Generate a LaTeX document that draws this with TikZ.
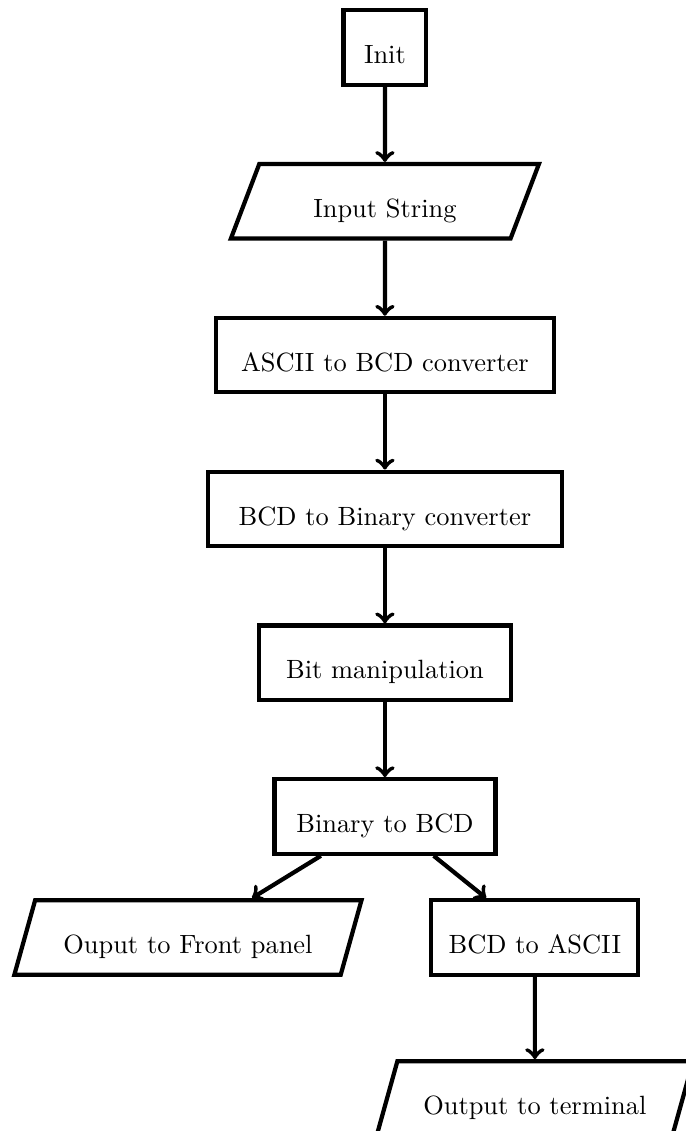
\documentclass[tikz,border=0pt]{standalone}
\usetikzlibrary{shapes.geometric, positioning}

\begin{document}
\begin{tikzpicture}[node distance=1cm,
    process/.style={rectangle, draw, ultra thick, minimum height=28.2pt,
        text height=12.2pt, text depth=0pt},
    io/.style={trapezium, trapezium left angle=70, trapezium right angle=110,
        trapezium stretches=true, draw, ultra thick, minimum height=28.2pt,
        text height=12.2pt, text depth=0pt},
    arrow/.style={->, ultra thick}]
    \useasboundingbox (-145.8pt,18pt) rectangle (113.7pt,-410.4pt);

    \node[process, minimum width=31.4pt] (init) {Init};
    \node[io, minimum width=116.7pt, below=of init] (input) {Input String};
    \node[process, minimum width=128pt, below=of input] (asciibcd) {ASCII to BCD converter};
    \node[process, minimum width=134pt, below=of asciibcd] (bcdbin) {BCD to Binary converter};
    \node[process, minimum width=95.5pt, below=of bcdbin] (bitman) {Bit manipulation};
    \node[process, minimum width=83.7pt, below=of bitman] (binbcd) {Binary to BCD};
    \node[io, minimum width=131.5pt, below=16pt of binbcd, xshift=-74.6pt] (front) {Ouput to Front panel};
    \node[process, minimum width=78.4pt, below=16pt of binbcd, xshift=56.8pt] (bcdascii) {BCD to ASCII};
    \node[io, minimum width=120pt, below=31.2pt of bcdascii] (term) {Output to terminal};

    \draw[arrow] (init) -- (input);
    \draw[arrow] (input) -- (asciibcd);
    \draw[arrow] (asciibcd) -- (bcdbin);
    \draw[arrow] (bcdbin) -- (bitman);
    \draw[arrow] (bitman) -- (binbcd);
    \draw[arrow] (binbcd) -- (front);
    \draw[arrow] (binbcd) -- (bcdascii);
    \draw[arrow] (bcdascii) -- (term);
\end{tikzpicture}
\end{document}
